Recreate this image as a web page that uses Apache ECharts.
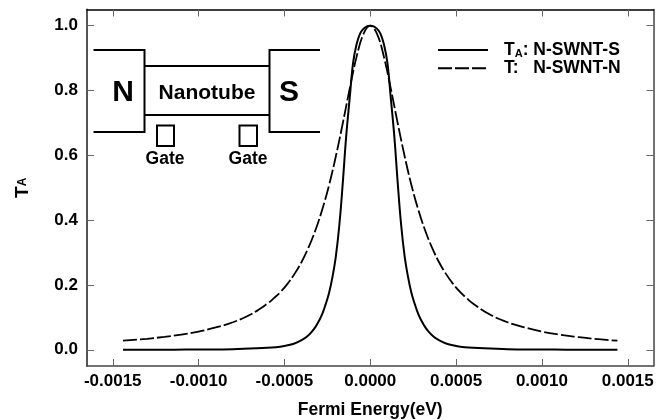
<!DOCTYPE html>
<html><head><meta charset="utf-8">
<style>html,body{margin:0;padding:0;background:#fff}#c{width:672px;height:420px}</style>
<script src="https://cdn.jsdelivr.net/npm/echarts@6/dist/echarts.min.js"></script>
</head><body><div id="c"></div>
<script>
const xTicks = [-0.0015,-0.001,-0.0005,0,0.0005,0.001,0.0015];
const yTicks = [0,0.2,0.4,0.6,0.8,1.0];
const energyTA = [-0.00144,-0.0012,-0.001,-0.0008,-0.0007,-0.0006,-0.00055,-0.0005,-0.00045,-0.0004,-0.00037,-0.00034,-0.00032,-0.0003,-0.00028,-0.00026,-0.00024,-0.00022,-0.0002,-0.00018,-0.00016,-0.00014,-0.00012,-0.0001,-0.00008,-0.00006,-0.00004,-0.00002,0,0.00002,0.00004,0.00006,0.00008,0.0001,0.00012,0.00014,0.00016,0.00018,0.0002,0.00022,0.00024,0.00026,0.00028,0.0003,0.00032,0.00034,0.00037,0.0004,0.00045,0.0005,0.00055,0.0006,0.0007,0.0008,0.001,0.0012,0.00144];
const valueTA = [0,0,0.001,0.002,0.004,0.006,0.008,0.012,0.018,0.03,0.04,0.056,0.07,0.088,0.11,0.14,0.175,0.225,0.29,0.385,0.515,0.66,0.775,0.885,0.942,0.975,0.99,0.998,1,0.998,0.99,0.975,0.942,0.885,0.775,0.66,0.515,0.385,0.29,0.225,0.175,0.14,0.11,0.088,0.07,0.056,0.04,0.03,0.018,0.012,0.008,0.006,0.004,0.002,0.001,0,0];
const energyT = [-0.00144,-0.0013,-0.0012,-0.0011,-0.001,-0.0009,-0.0008,-0.0007,-0.0006,-0.00056,-0.00052,-0.00048,-0.00044,-0.0004,-0.00036,-0.00032,-0.00028,-0.00024,-0.0002,-0.00016,-0.00012,-0.00008,-0.00004,0,0.00004,0.00008,0.00012,0.00016,0.0002,0.00024,0.00028,0.00032,0.00036,0.0004,0.00044,0.00048,0.00052,0.00056,0.0006,0.0007,0.0008,0.0009,0.001,0.0011,0.0012,0.0013,0.00144];
const valueT = [0.028,0.034,0.04,0.047,0.056,0.069,0.085,0.108,0.142,0.16,0.18,0.205,0.235,0.271,0.315,0.368,0.432,0.508,0.598,0.699,0.805,0.903,0.974,1,0.974,0.903,0.805,0.699,0.598,0.508,0.432,0.368,0.315,0.271,0.235,0.205,0.18,0.16,0.142,0.108,0.085,0.069,0.056,0.047,0.04,0.034,0.028];
const nameTA = 'TA: N-SWNT-S';
const nameT = 'T: N-SWNT-N';

const zip = (a,b)=>a.map((v,i)=>[v,b[i]]);
const FONT = '"Liberation Sans", Arial, sans-serif';
const hLine = (pts,w)=>({type:'polyline',silent:true,shape:{points:pts},style:{stroke:'#000',lineWidth:w||2,fill:null}});
const txt = (x,y,t,s)=>({type:'text',silent:true,x,y,style:{text:t,font:`bold ${s}px ${FONT}`,fill:'#000',align:'center',verticalAlign:'middle'}});
const mirror = (pos,ticks,col)=>({type:'value',position:pos,axisLine:{show:true,onZero:false,lineStyle:{color:col,width:1.5}},axisTick:{show:true,inside:true,length:7,customValues:ticks,lineStyle:{color:'#666',width:1}},axisLabel:{show:false},splitLine:{show:false}});

const chart = echarts.init(document.getElementById('c'),null,{renderer:'canvas'});
const lbl = {fontFamily:FONT,fontWeight:'bold',fontSize:17,color:'#000'};
chart.setOption({
  animation:false,
  backgroundColor:'#fff',
  grid:{left:87,right:18.5,top:9.5,bottom:54,containLabel:false,outerBoundsMode:'none'},
  legend:{
    left:437,top:41,padding:0,orient:'vertical',itemWidth:50,itemHeight:8,itemGap:0,selectedMode:false,
    itemStyle:{opacity:0},
    data:[{name:nameTA},{name:nameT}],
    formatter:n=>n===nameTA?'{m|T}{s|A}{m|: N-SWNT-S}':'{m|T:   N-SWNT-N}',
    textStyle:{padding:[0,0,0,11],rich:{m:{fontFamily:FONT,fontWeight:'bold',fontSize:17.5,lineHeight:18.5,color:'#000'},s:{fontFamily:FONT,fontWeight:'bold',fontSize:11,lineHeight:18.5,color:'#000',verticalAlign:'bottom',padding:[5,0,0,0]}}}
  },
  xAxis:[
    {type:'value',position:'bottom',min:-0.00165,max:0.00165,
     name:'Fermi Energy(eV)',nameLocation:'middle',nameGap:35.5,nameTextStyle:{fontFamily:FONT,fontWeight:'bold',fontSize:17.5,color:'#000'},
     axisLine:{show:true,onZero:false,lineStyle:{color:'#444',width:1.5}},
     axisTick:{show:true,inside:true,length:7,customValues:xTicks,lineStyle:{color:'#666',width:1}},
     axisLabel:Object.assign({customValues:xTicks,margin:7,formatter:v=>v.toFixed(4)},lbl),
     splitLine:{show:false}},
    Object.assign(mirror('top',xTicks,'#000'),{min:-0.00165,max:0.00165})
  ],
  yAxis:[
    {type:'value',position:'left',min:-0.05,max:1.05,
     name:'{t|T}{s|A}',nameLocation:'middle',nameGap:55,
     nameTextStyle:{rich:{t:{fontFamily:FONT,fontWeight:'bold',fontSize:19,color:'#000'},s:{fontFamily:FONT,fontWeight:'bold',fontSize:12,color:'#000'}}},
     axisLine:{show:true,onZero:false,lineStyle:{color:'#555',width:2}},
     axisTick:{show:true,inside:true,length:7,customValues:yTicks,lineStyle:{color:'#666',width:1}},
     axisLabel:Object.assign({customValues:yTicks,margin:9,padding:[1,0,0,0],formatter:v=>v.toFixed(1)},lbl),
     splitLine:{show:false}},
    Object.assign(mirror('right',yTicks,'#444'),{min:-0.05,max:1.05})
  ],
  series:[
    {name:nameTA,type:'line',data:zip(energyTA,valueTA),showSymbol:false,symbol:'none',smooth:0.4,clip:true,
     lineStyle:{color:'#000',width:2},itemStyle:{color:'#000'}},
    {name:nameT,type:'line',data:zip(energyT,valueT),showSymbol:false,symbol:'none',smooth:0.4,clip:true,
     lineStyle:{color:'#000',width:1.8,type:[14,3]},itemStyle:{color:'#000'}}
  ],
  graphic:[
    hLine([[93.5,50],[144.5,50],[144.5,132],[93.5,132]]),
    hLine([[320,50],[269.5,50],[269.5,132],[320,132]]),
    hLine([[144.5,66],[269.5,66]]),
    hLine([[144.5,115],[269.5,115]]),
    {type:'rect',silent:true,shape:{x:157,y:125.5,width:17,height:20.5},style:{stroke:'#000',lineWidth:2,fill:null}},
    {type:'rect',silent:true,shape:{x:239.5,y:125.5,width:17.5,height:20.5},style:{stroke:'#000',lineWidth:2,fill:null}},
    txt(123,92.5,'N',30),
    txt(289,92.5,'S',30),
    txt(207,93,'Nanotube',21),
    txt(165,159,'Gate',17.5),
    txt(248,159,'Gate',17.5)
  ]
});
</script></body></html>
